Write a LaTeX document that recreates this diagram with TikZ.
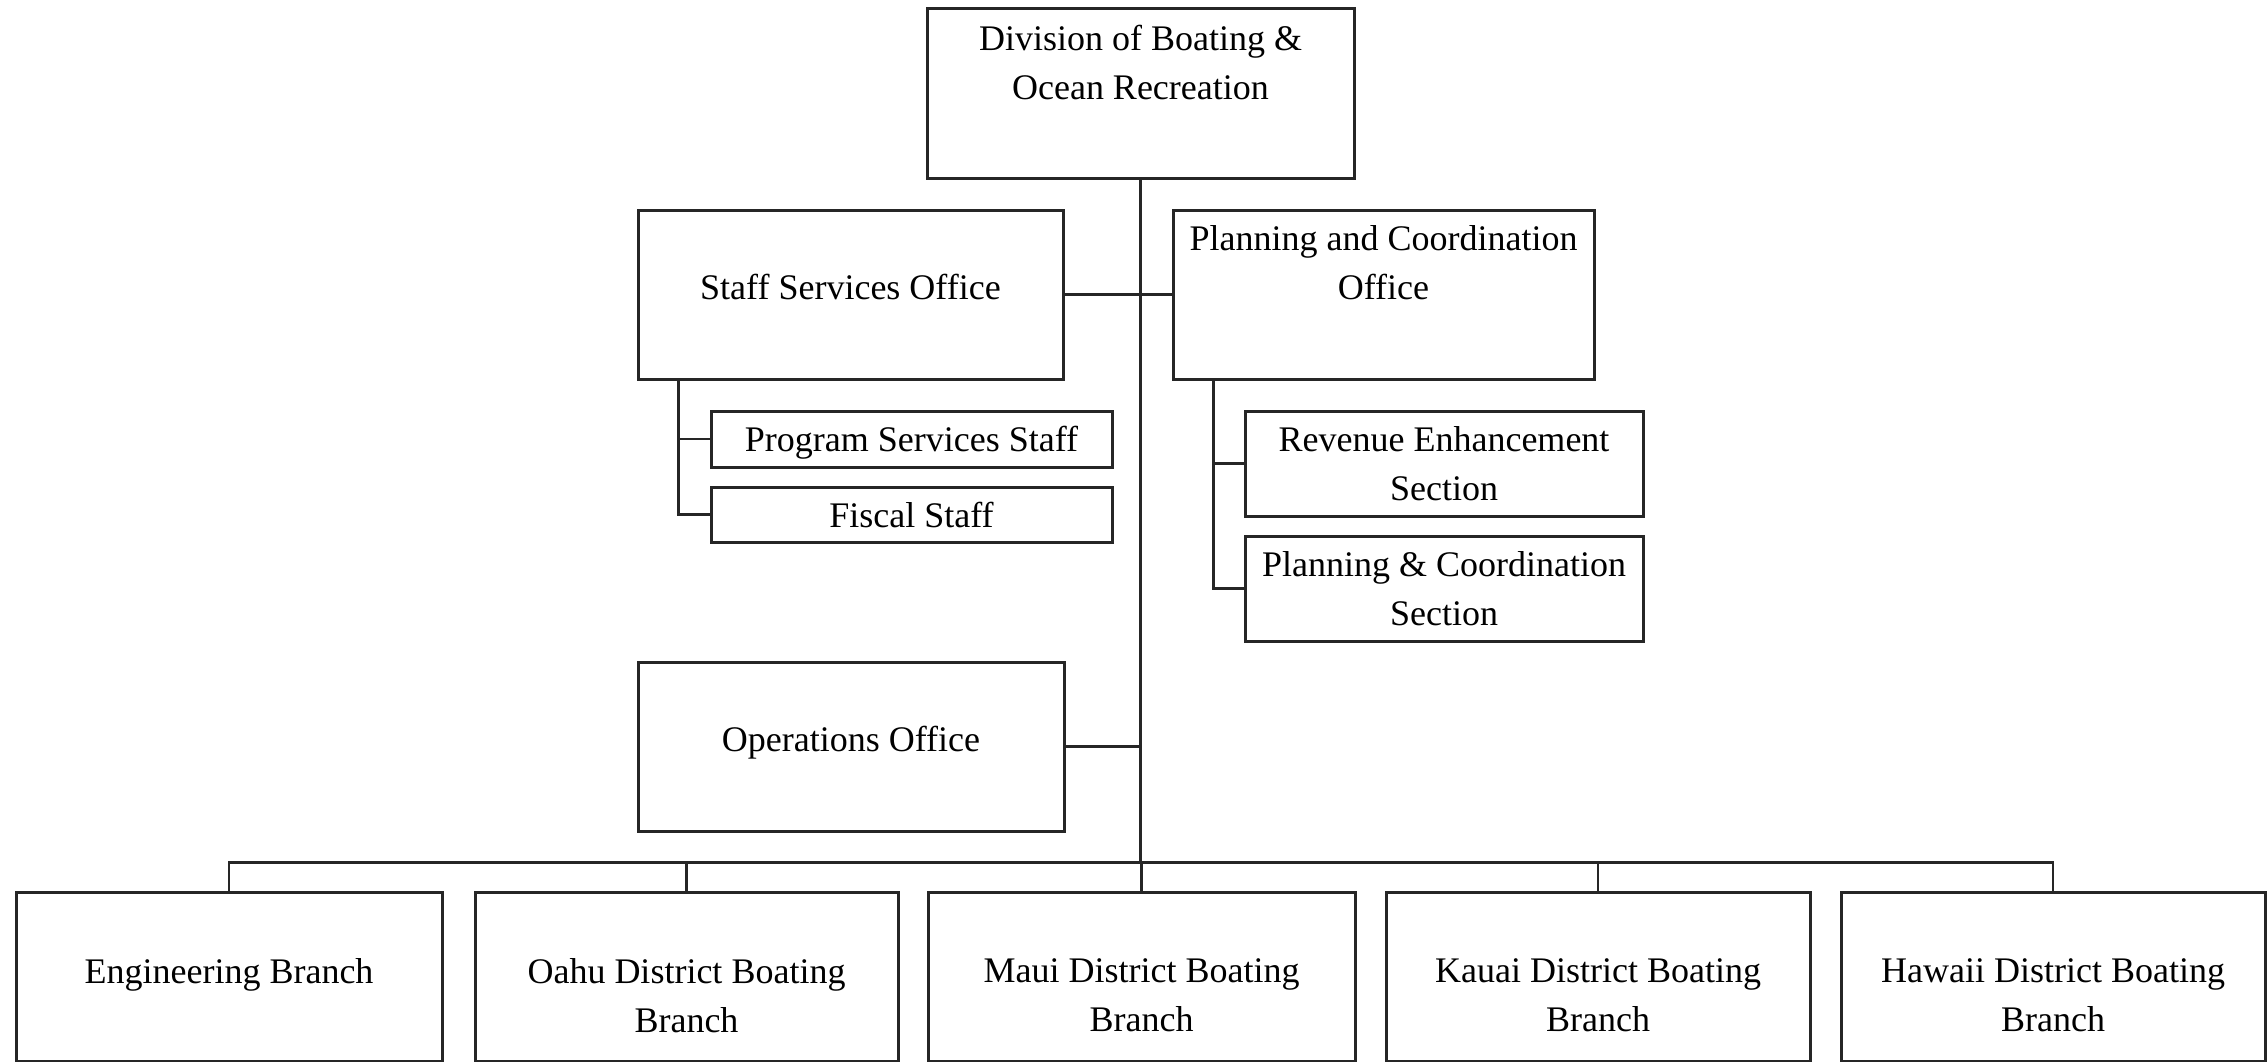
\documentclass[tikz,border=0pt]{standalone}
\usepackage{fontspec}
\setmainfont{Liberation Serif}
\usetikzlibrary{positioning}
\tikzset{
  unit/.style    = {draw=black!85, line width=3pt, inner sep=0pt, align=center},
  unittxt/.style = {align=center, inner sep=0pt, anchor=north},
  link/.style    = {draw=black!85, line width=2.6pt},
}

\begin{document}
\begin{tikzpicture}[x=1pt, y=-1pt, font=\fontsize{36}{49}\selectfont]
  \useasboundingbox (0,0) rectangle (2268,1061);
  % head of division
  \node[unit, minimum width=427pt, minimum height=170pt] (div) at (1140.5,93) {};
  \node[unittxt] (divtxt) at ([yshift=-18pt]div.north) {Division of Boating \&\\Ocean Recreation};
  % offices
  \node[unit, minimum width=425pt, minimum height=169pt] (staff) at (850.5,294.5) {};
  \node[unittxt] (stafftxt) at ([yshift=-65pt]staff.north) {Staff Services Office};
  \node[unit, minimum width=421pt, minimum height=169pt] (plan) at (1383.5,294.5) {};
  \node[unittxt] (plantxt) at ([yshift=-17pt]plan.north) {Planning and Coordination\\Office};
  \node[unit, minimum width=426pt, minimum height=169pt] (ops) at (851,746.5) {};
  \node[unittxt] (opstxt) at ([yshift=-65pt]ops.north) {Operations Office};
  % staff and sections
  \node[unit, minimum width=401pt, minimum height=56pt, text depth=0pt] (prog) at (911.5,439) {Program Services Staff};
  \node[unit, minimum width=401pt, minimum height=55pt] (fisc) at (911.5,514.5) {Fiscal Staff};
  \node[unit, minimum width=398pt, minimum height=105pt] (rev) at (1444,463.5) {Revenue Enhancement\\Section};
  \node[unit, minimum width=398pt, minimum height=105pt] (pcs) at (1444,588.5) {Planning \& Coordination\\Section};
  % branches
  \foreach \name/\x/\w/\txt in {eng/229/426/{Engineering Branch},
                               oahu/686.5/423/{Oahu District Boating\\Branch},
                               maui/1141.5/427/{Maui District Boating\\Branch},
                               kauai/1598/424/{Kauai District Boating\\Branch},
                               hawaii/2053/424/{Hawaii District Boating\\Branch}} {
    \node[unit, minimum width=\w pt, minimum height=169pt] (\name) at (\x,976.5) {};
    \node[unittxt] (\name txt) at ([yshift=-68pt]\name.north) {\txt};
  }
  % connectors
  \path (div.south) ++(0,683) coordinate (bus);
  \draw[link] (div.south) -- (bus);
  \draw[link] (staff.east) -- (plan.west);
  \draw[link] (ops.east) -- (ops.east -| div.south);
  \foreach \b in {eng,oahu,maui,kauai,hawaii}
    \draw[link] (bus) -| (\b.north);
  \draw[link] ([xshift=42pt]staff.south west) |- (prog.west);
  \draw[link] ([xshift=42pt]staff.south west) |- (fisc.west);
  \draw[link] ([xshift=42pt]plan.south west) |- (rev.west);
  \draw[link] ([xshift=42pt]plan.south west) |- (pcs.west);
\end{tikzpicture}
\end{document}
